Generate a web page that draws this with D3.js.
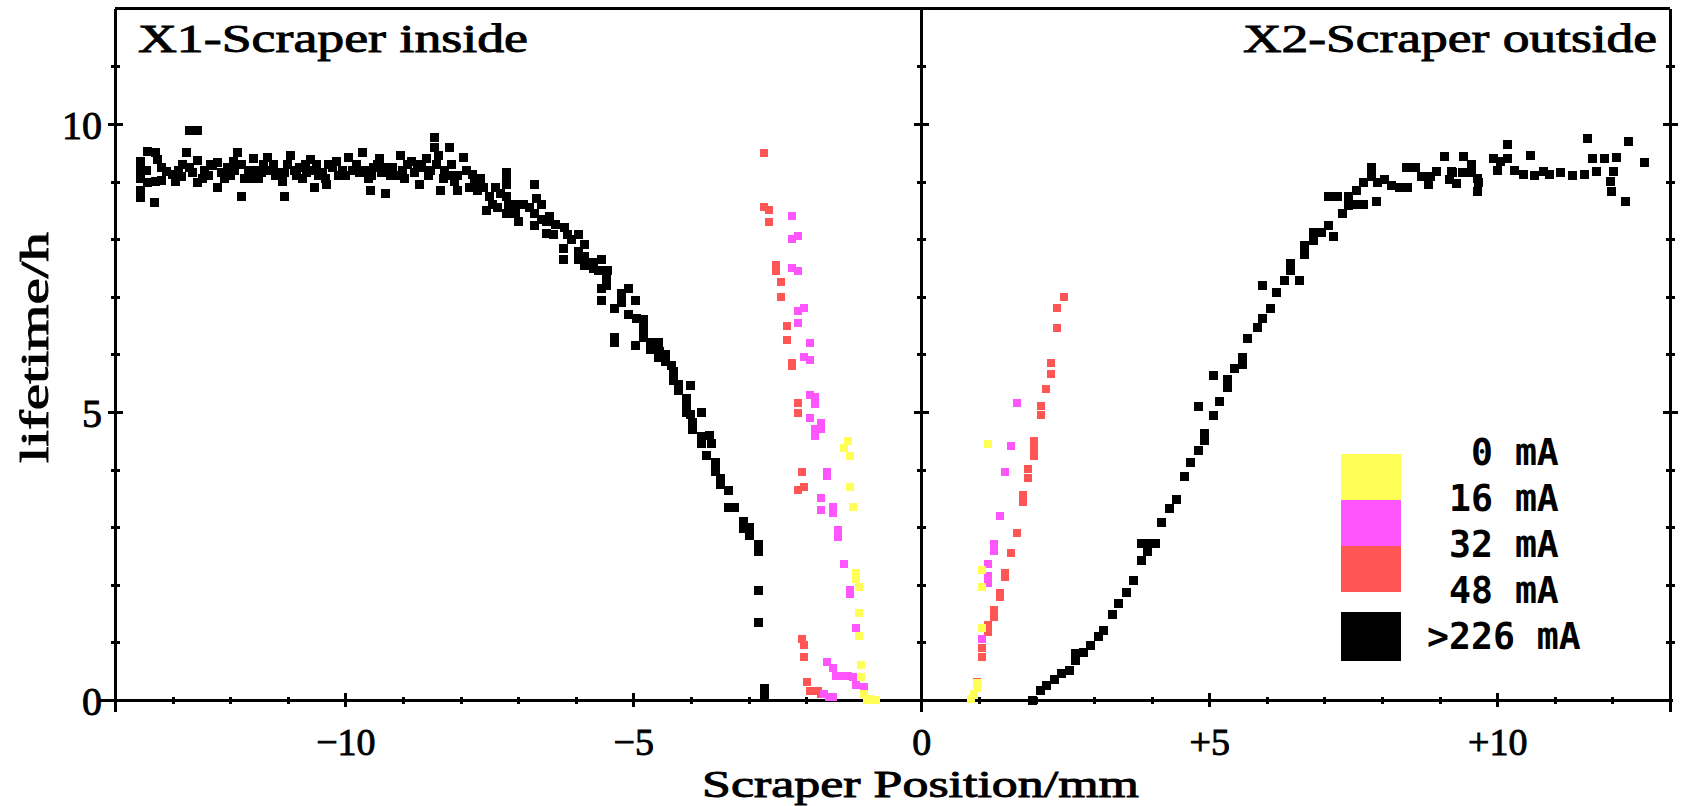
<!DOCTYPE html>
<html>
<head>
<meta charset="utf-8">
<script src="https://cdn.jsdelivr.net/npm/d3@7"></script>
<style>
  body { margin: 0; background: #fff; }
  svg { display: block; }
  .serif { font-family: "Liberation Serif", "DejaVu Serif", serif; fill: #000; stroke: #000; stroke-width: 0.9; }
  .mono { font-family: "DejaVu Sans Mono", "Liberation Mono", monospace; font-weight: bold; fill: #000; white-space: pre; }
</style>
</head>
<body>
<svg id="chart" width="1689" height="806"></svg>
<script>
// panel titles and axis labels
const titleLeft = "X1-Scraper inside";
const titleRight = "X2-Scraper outside";
const xLabel = "Scraper Position/mm";
const yLabel = "lifetime/h";

const xMajorTicks = [-10, -5, 0, 5, 10];
const yMajorTicks = [0, 5, 10];

// legend: colour bands between current thresholds, then the high-current set
const legendLabels = ["  0 mA", " 16 mA", " 32 mA", " 48 mA", ">226 mA"];
const legendColors = ["#ffff55", "#ff55ff", "#ff5555"];

// beam current > 226 mA  [position mm, lifetime h]
const blackPts = [
  [-13.56,9.35],[-13.56,9.2],[-13.56,9.05],[-13.56,8.85],[-13.56,8.72],
  [-13.43,9.53],[-13.3,9.5],[-13.27,9.38],[-13.43,8.98],[-13.3,9.0],[-13.2,9.02],[-13.31,8.63],
  [-13.1,9.18],[-13.0,9.12],[-12.9,9.2],[-12.95,9.0],[-12.82,9.3],[-12.75,9.5],
  [-12.71,9.88],[-12.56,9.88],
  [-12.65,9.15],[-12.56,9.37],[-12.56,8.98],[-12.45,9.2],[-12.38,9.1],[-12.3,9.28],[-12.22,9.33],[-12.22,8.9],[-12.15,9.15],
  [-12.05,9.25],[-12.0,9.1],[-11.92,9.2],[-11.88,9.5],[-11.8,9.3],[-11.75,9.05],[-11.8,8.74],[-11.68,9.2],
  [-11.6,9.4],[-11.55,9.2],[-11.5,9.05],[-11.42,9.3],[-11.35,9.42],[-11.3,9.2],[-11.22,9.1],[-11.15,9.15],[-11.1,9.0],[-11.06,8.74],
  [-11.0,9.3],[-10.95,9.45],[-10.88,9.2],[-10.8,9.25],[-10.75,9.05],[-10.68,9.15],[-10.6,9.38],[-10.55,9.2],[-10.54,8.9],[-10.47,9.1],
  [-10.4,9.15],[-10.32,8.95],[-10.3,9.3],[-10.22,9.25],[-10.12,9.1],[-10.05,9.2],[-9.95,9.42],[-9.88,9.2],[-9.8,9.3],
  [-9.7,9.5],[-9.65,9.2],[-9.6,9.05],[-9.57,8.85],[-9.52,9.25],[-9.45,9.3],[-9.38,9.15],[-9.3,8.79],[-9.28,9.25],
  [-9.18,9.25],[-9.1,9.1],[-9.05,9.45],[-9.0,9.2],[-8.92,9.3],[-8.85,9.35],[-8.8,9.15],[-8.72,8.95],[-8.68,9.25],
  [-8.6,9.4],[-8.52,9.2],[-8.45,9.77],[-8.45,9.6],[-8.42,9.3],[-8.35,8.85],[-8.3,9.05],[-8.28,9.2],[-8.2,9.6],[-8.15,9.3],[-8.06,8.85],
  [-13.45,9.2],[-13.2,9.25],[-12.85,9.08],[-12.7,9.25],[-12.48,9.05],[-12.35,9.3],[-12.1,9.05],[-11.95,9.35],
  [-11.65,9.05],[-11.45,9.15],[-11.25,9.3],[-11.05,9.15],[-10.85,9.1],[-10.7,9.3],[-10.5,9.3],[-10.35,9.05],
  [-10.15,9.35],[-10.0,9.1],[-9.75,9.15],[-9.55,9.1],[-9.4,9.4],[-9.22,9.1],[-8.98,9.05],[-8.75,9.3],
  [-8.55,9.1],[-8.38,9.45],[-8.2,9.1],[-8.1,9.0],
  [-8.05,9.1],[-7.95,9.42],[-7.9,9.2],[-7.85,8.9],[-7.8,9.12],[-7.75,9.0],[-7.7,8.85],[-7.65,9.05],[-7.6,8.9],[-7.55,8.5],
  [-7.5,8.75],[-7.45,8.6],[-7.4,8.9],[-7.35,8.55],[-7.3,8.8],
  [-7.21,9.08],[-7.2,9.15],[-7.2,8.95],[-7.2,8.75],[-7.17,8.6],[-7.2,8.45],[-7.05,8.45],[-7.0,8.3],[-7.07,8.6],
  [-6.9,8.6],[-6.8,8.55],[-6.72,8.95],[-6.68,8.7],[-6.6,8.6],[-6.72,8.44],[-6.6,8.35],[-6.5,8.3],[-6.45,8.4],
  [-6.72,8.24],[-6.5,8.1],[-6.35,8.25],[-6.39,8.08],[-6.2,8.2],[-6.14,8.08],[-6.07,7.99],[-5.96,8.09],[-5.85,7.9],
  [-6.22,7.84],[-5.96,7.78],[-5.85,7.7],[-5.7,7.6],[-6.22,7.65],[-5.96,7.65],[-5.84,7.55],[-5.7,7.5],[-5.56,7.65],
  [-5.6,7.45],[-5.44,7.45],[-5.47,7.3],[-5.47,7.2],[-5.56,7.14],[-5.56,6.94],[-5.08,7.14],[-5.2,7.05],[-5.2,6.9],
  [-4.97,6.94],[-5.32,6.8],[-5.08,6.69],[-4.95,6.62],[-4.83,6.6],[-4.82,6.5],[-4.82,6.4],[-5.32,6.29],[-5.32,6.2],
  [-4.97,6.15],[-4.82,6.29],[-4.7,6.2],[-4.57,6.2],[-4.71,6.08],[-4.55,6.05],[-4.45,6.0],[-4.57,5.95],[-4.45,5.88],
  [-4.33,5.8],[-4.31,5.7],[-4.31,5.55],[-4.22,5.48],[-4.22,5.38],[-4.0,5.46],[-4.08,5.23],[-4.08,5.13],[-3.82,4.99],
  [-4.08,5.0],[-4.0,4.95],[-3.97,4.81],[-3.97,4.7],
  [-3.82,4.58],[-3.68,4.6],[-3.65,4.45],[-3.82,4.45],[-3.73,4.24],[-3.57,4.13],[-3.57,3.97],[-3.48,3.85],[-3.48,3.75],
  [-3.34,3.64],[-3.34,3.35],[-3.24,3.35],[-3.08,3.1],[-3.08,2.98],[-2.98,3.0],[-2.98,2.85],[-2.82,2.7],[-2.82,2.57],
  [-2.82,1.90],[-2.82,1.34],[-2.72,0.2],[-2.72,0.05],
  [1.93,0.0],[2.07,0.16],[2.18,0.26],[2.32,0.36],[2.43,0.46],[2.58,0.51],[2.68,0.68],[2.68,0.8],[2.82,0.82],
  [2.93,0.95],[3.07,1.11],[3.17,1.2],[3.32,1.48],[3.42,1.67],[3.57,1.87],[3.68,2.07],[3.83,2.42],[3.93,2.58],
  [3.83,2.72],[3.93,2.72],[4.07,2.72],[4.17,3.09],[4.31,3.33],[4.43,3.48],[4.57,3.88],[4.67,4.12],[4.82,4.34],
  [4.92,4.5],[4.92,4.63],[5.07,4.94],[4.82,5.09],[5.17,5.19],[5.07,5.64],[5.32,5.43],[5.32,5.57],[5.43,5.76],
  [5.57,5.94],[5.57,5.82],[5.67,6.27],[5.83,6.47],[5.92,6.63],[6.06,6.79],[5.92,7.19],[6.17,7.07],[6.31,7.28],
  [6.57,7.29],[6.41,7.58],[6.41,7.45],[6.66,7.89],[6.66,7.74],[6.81,8.12],[6.95,8.12],[6.81,7.98],[7.07,8.23],
  [7.16,8.04],[7.32,8.44],[7.07,8.74],[7.22,8.74],[7.42,8.74],[7.42,8.59],[7.52,8.6],[7.68,8.6],[7.55,8.84],
  [7.67,8.99],[7.9,8.65],[7.82,9.24],[7.82,9.09],[7.92,8.99],[8.05,9.03],[8.16,8.93],[8.31,8.9],[8.44,8.9],
  [8.43,9.24],[8.58,9.24],[8.68,9.09],[8.84,9.09],[8.8,8.95],[8.94,9.17],[9.2,9.17],[9.08,9.43],[9.17,9.03],
  [9.3,8.96],[9.23,9.15],[9.4,9.15],[9.55,9.15],[9.42,9.43],[9.55,9.29],[9.67,8.99],[9.66,8.83],
  [9.66,9.05],[9.93,9.4],[10.05,9.35],[10.17,9.4],[10.17,9.64],[10.57,9.45],[10.8,9.17],[10.45,9.12],[10.65,9.1],
  [10.9,9.12],[11.1,9.15],[11.3,9.1],[11.52,9.12],[11.56,9.75],[11.66,9.4],[11.87,9.4],[11.72,9.17],[12.02,9.17],
  [12.07,9.41],[11.96,9.0],[11.99,8.83],[12.23,8.66],[12.28,9.69],[12.56,9.34],[10.3,9.2],[10.0,9.2]
];

// 32-48 mA
const redPts = [
  [-2.73,9.50],[-2.73,8.56],[-2.64,8.51],[-2.64,8.30],[-2.53,7.55],[-2.53,7.45],[-2.43,7.26],[-2.43,7.00],
  [-2.33,6.49],[-2.33,6.25],[-2.24,5.85],[-2.24,5.80],[-2.14,5.16],[-2.14,4.98],[-2.08,3.96],[-2.14,3.65],
  [-2.03,3.70],[-2.08,1.06],[-2.03,0.95],[-2.03,0.75],[-1.98,0.31],[-1.93,0.16],[-1.79,0.16],[-1.74,0.1],
  [2.47,7.00],[2.36,6.80],[2.36,6.46],[2.26,5.85],[2.26,5.66],[2.17,5.40],[2.07,5.10],[2.07,4.95],[1.96,4.50],
  [1.96,4.36],[1.96,4.24],[1.86,4.01],[1.86,3.85],[1.77,3.56],[1.77,3.44],[1.67,2.90],[1.56,2.55],[1.46,2.20],
  [1.46,2.14],[1.37,1.86],[1.37,1.79],[1.27,1.56],[1.27,1.44],[1.16,1.30],[1.16,1.18],[1.06,0.90],[1.06,0.75],
  [0.97,0.31],[0.92,0.10]
];

// 16-32 mA
const magentaPts = [
  [-2.24,8.40],[-2.14,8.06],[-2.24,8.00],[-2.24,7.50],[-2.14,7.45],[-2.03,6.80],[-2.14,6.75],[-2.14,6.55],
  [-1.93,6.20],[-2.03,5.95],[-1.93,5.90],[-1.93,5.30],[-1.84,5.26],[-1.84,5.14],[-1.93,4.90],[-1.74,4.81],
  [-1.74,4.70],[-1.84,4.70],[-1.84,4.58],[-1.63,3.96],[-1.63,3.89],[-1.74,3.51],[-1.74,3.30],[-1.53,3.35],
  [-1.53,3.25],[-1.44,2.95],[-1.44,2.83],[-1.34,2.36],[-1.23,1.91],[-1.23,1.84],[-1.13,1.25],[-1.63,0.66],
  [-1.53,0.56],[-1.48,0.42],[-1.38,0.42],[-1.28,0.42],[-1.18,0.4],[-1.13,0.26],[-0.99,0.22],[-1.69,0.10],
  [-1.53,0.05],[-1.6,0.05],
  [1.67,5.16],[1.56,4.41],[1.46,3.96],[1.37,3.19],[1.27,2.71],[1.27,2.59],[1.16,2.36],[1.16,2.15],[1.16,2.03],
  [1.06,1.06]
];

// 0-16 mA
const yellowPts = [
  [-1.28,4.50],[-1.34,4.38],[-1.23,4.24],[-1.23,3.70],[-1.18,3.35],[-1.13,2.20],[-1.13,2.10],[-1.08,1.96],
  [-1.08,1.51],[-1.08,1.11],[-1.04,0.61],[-1.04,0.40],[-0.99,0.10],[-0.89,0.02],[-0.79,0.0],[-0.94,0.0],
  [1.16,4.44],[1.06,2.26],[1.06,1.96],[1.06,1.25],[0.97,0.21],[0.97,0.3],[0.92,0.1],[0.87,0.02]
];

const svg = d3.select("#chart");

const x = d3.scaleLinear().domain([-14, 13]).range([115, 1670]);
const y = d3.scaleLinear().domain([0, 12]).range([700, 8.8]);

const frame = svg.append("g")
  .attr("stroke", "#000")
  .attr("stroke-width", 3)
  .attr("shape-rendering", "crispEdges");

// minor/major ticks on the x axis
const xAxis = d3.axisBottom(x)
  .tickValues(d3.range(-13, 13).filter(d => d !== 0))
  .tickFormat("")
  .tickSizeOuter(0);
const gx = svg.append("g").attr("transform", `translate(0,${y(0)})`).call(xAxis);
gx.select(".domain").remove();
gx.selectAll(".tick line")
  .attr("stroke-width", 3)
  .attr("shape-rendering", "crispEdges")
  .attr("y1", d => xMajorTicks.includes(d) ? -7 : -3.5)
  .attr("y2", d => xMajorTicks.includes(d) ? 7 : 3.5);

// y ticks on the left axis, the divider and the right axis
[-14, 0, 13].forEach(pos => {
  const ax = d3.axisLeft(y).tickValues(d3.range(1, 12)).tickFormat("").tickSizeOuter(0);
  const g = svg.append("g").attr("transform", `translate(${x(pos)},0)`).call(ax);
  g.select(".domain").remove();
  g.selectAll(".tick line")
    .attr("stroke-width", 3)
    .attr("shape-rendering", "crispEdges")
    .attr("x1", d => yMajorTicks.includes(d) ? -7.5 : -4.5)
    .attr("x2", d => yMajorTicks.includes(d) ? 7.5 : 4.5);
});

// frame lines
frame.append("line").attr("x1", x(-14)).attr("x2", x(13)).attr("y1", y(12)).attr("y2", y(12));
frame.append("line").attr("x1", x(-14) - 17).attr("x2", x(13) + 3).attr("y1", y(0)).attr("y2", y(0));
[-14, 0, 13].forEach(pos => {
  frame.append("line").attr("x1", x(pos)).attr("x2", x(pos)).attr("y1", y(12)).attr("y2", y(0) + 12);
});

// tick labels
const fmtX = d => d > 0 ? "+" + d : d < 0 ? "\u2212" + (-d) : "0";
const xLab = d3.axisBottom(x).tickValues(xMajorTicks).tickFormat(fmtX).tickSize(0).tickPadding(0);
const gxl = svg.append("g").attr("transform", `translate(0,${y(0)})`).call(xLab);
gxl.select(".domain").remove();
gxl.selectAll("text")
  .attr("class", "serif")
  .attr("font-size", 38)
  .attr("dy", null)
  .attr("y", 55);

const yLab = d3.axisLeft(y).tickValues(yMajorTicks).tickFormat(d3.format("d")).tickSize(0).tickPadding(0);
const gyl = svg.append("g").attr("transform", `translate(102,0)`).call(yLab);
gyl.select(".domain").remove();
gyl.selectAll("text")
  .attr("class", "serif")
  .attr("font-size", 40)
  .attr("dy", null)
  .attr("y", 14);

// scatter squares
function drawSquares(data, color, size) {
  svg.append("g")
    .attr("shape-rendering", "crispEdges")
    .selectAll("rect")
    .data(data)
    .join("rect")
    .attr("x", d => x(d[0]) - size / 2)
    .attr("y", d => y(d[1]) - size / 2)
    .attr("width", size)
    .attr("height", size)
    .attr("fill", color);
}
drawSquares(blackPts, "#000", 9);
drawSquares(redPts, legendColors[2], 8);
drawSquares(magentaPts, legendColors[1], 8);
drawSquares(yellowPts, legendColors[0], 8);

// titles
svg.append("text").attr("class", "serif").attr("font-size", 39)
  .attr("x", 138).attr("y", 52)
  .attr("textLength", 390).attr("lengthAdjust", "spacingAndGlyphs")
  .text(titleLeft);
svg.append("text").attr("class", "serif").attr("font-size", 39)
  .attr("x", 1243).attr("y", 52)
  .attr("textLength", 414).attr("lengthAdjust", "spacingAndGlyphs")
  .text(titleRight);

svg.append("text").attr("class", "serif").attr("font-size", 37)
  .attr("x", 702).attr("y", 797)
  .attr("textLength", 437).attr("lengthAdjust", "spacingAndGlyphs")
  .text(xLabel);

svg.append("text").attr("class", "serif").attr("font-size", 39)
  .attr("transform", "translate(48,463) rotate(-90)")
  .attr("textLength", 231).attr("lengthAdjust", "spacingAndGlyphs")
  .text(yLabel);

// legend
const legX = 1341, legW = 60, legTop = 452, legStep = 46;
const legend = svg.append("g").attr("shape-rendering", "crispEdges");
legend.selectAll("rect.band")
  .data(legendColors)
  .join("rect")
  .attr("class", "band")
  .attr("x", legX)
  .attr("y", (d, i) => legTop + 2 + i * legStep)
  .attr("width", legW)
  .attr("height", legStep)
  .attr("fill", d => d);
legend.append("rect")
  .attr("x", legX).attr("y", legTop + 4 * legStep - 24)
  .attr("width", legW).attr("height", 49)
  .attr("fill", "#000");
legend.selectAll("text")
  .data(legendLabels)
  .join("text")
  .attr("class", "mono")
  .attr("font-size", 36.5)
  .attr("x", 1427)
  .attr("y", (d, i) => legTop + i * legStep + 13)
  .text(d => d);
</script>
</body>
</html>
